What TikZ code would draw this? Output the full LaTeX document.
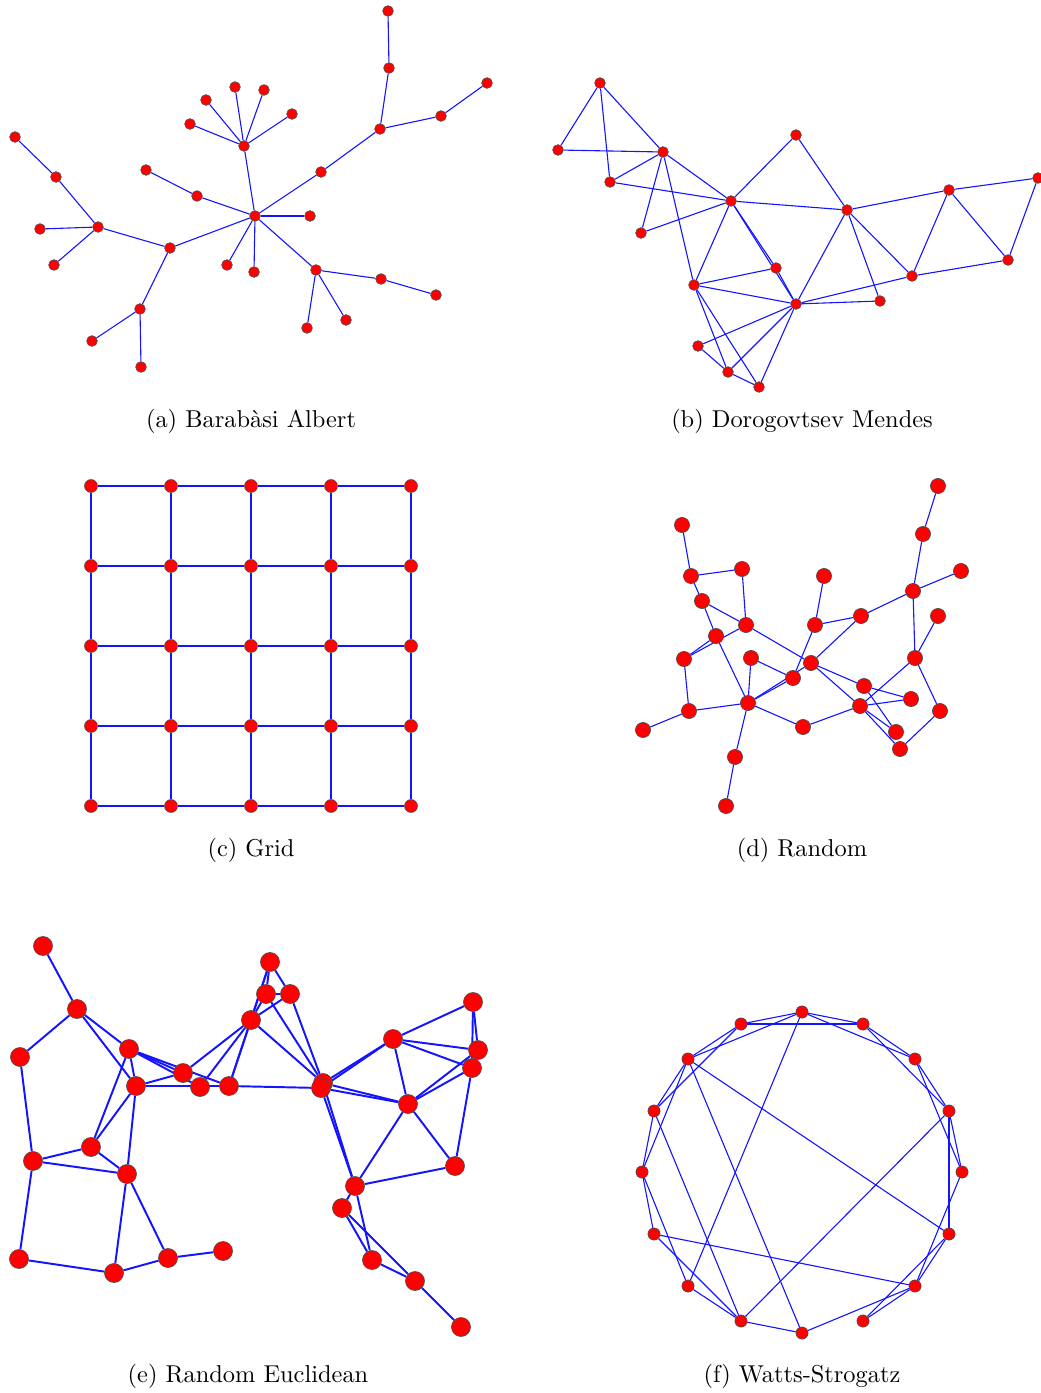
\documentclass[tikz,border=0pt]{standalone}
\usetikzlibrary{backgrounds}
\definecolor{nodered}{RGB}{255,0,0}
\definecolor{edgeblue}{RGB}{20,20,255}
\begin{document}
\begin{tikzpicture}[x=0.41pt,y=-0.41pt,
  dotbase/.style={circle,fill=nodered,draw=black!70,line width=0.25pt,inner sep=0pt},
  dotA/.style={dotbase,minimum size=4.4pt},
  dotC/.style={dotbase,minimum size=5.3pt},
  dotD/.style={dotbase,minimum size=6.2pt},
  dotE/.style={dotbase,minimum size=7.8pt},
  dotF/.style={dotbase,minimum size=5pt},
  edgethin/.style={draw=edgeblue,line width=0.45pt},
  edgethick/.style={draw=edgeblue,line width=0.8pt},
  captext/.style={font=\normalsize,inner sep=0pt}]
\useasboundingbox (0,0) rectangle (1040,1393);

% ---------- (a) Barabasi Albert ----------
\foreach \n/\x/\y in {a1/388/11,a2/389/68,a3/380/129,a4/441/116,a5/487/83,a6/321/172,
  a7/255/216,a8/310/216,a9/244/146,a10/235/87,a11/264/90,a12/206/100,a13/292/114,
  a14/190/124,a15/197/196,a16/146/170,a17/170/248,a18/98/227,a19/56/177,a20/15/137,
  a21/40/229,a22/54/265,a23/140/309,a24/92/341,a25/141/367,a26/227/265,a27/254/272,
  a28/316/270,a29/381/279,a30/436/295,a31/307/328,a32/346/320}
  \node[dotA] (\n) at (\x,\y) {};
\begin{pgfonlayer}{background}
\foreach \p/\q in {a1/a2,a2/a3,a3/a4,a4/a5,a3/a6,a6/a7,a7/a8,a7/a9,a9/a10,a9/a11,a9/a12,
  a9/a13,a9/a14,a7/a15,a15/a16,a7/a17,a17/a18,a18/a19,a19/a20,a18/a21,a18/a22,a17/a23,
  a23/a24,a23/a25,a7/a26,a7/a27,a7/a28,a28/a29,a29/a30,a28/a31,a28/a32}
  \draw[edgethin] (\p) -- (\q);
\end{pgfonlayer}
\node[captext] (capa) at (251,421) {(a) Barab\`asi Albert};

% ---------- (b) Dorogovtsev Mendes ----------
\foreach \n/\x/\y in {b1/600/83,b2/558/150,b3/663/152,b4/610/182,b5/731/201,b6/641/233,
  b7/796/135,b8/847/210,b9/949/190,b10/1038/178,b11/1008/260,b12/912/276,b13/776/268,
  b14/694/285,b15/796/304,b16/880/301,b17/698/346,b18/728/372,b19/759/387}
  \node[dotA] (\n) at (\x,\y) {};
\begin{pgfonlayer}{background}
\foreach \p/\q in {b1/b2,b1/b4,b1/b3,b2/b3,b3/b4,b3/b6,b3/b5,b3/b14,b4/b5,b6/b5,b5/b7,
  b5/b8,b7/b8,b8/b9,b9/b10,b9/b12,b9/b11,b10/b11,b12/b11,b8/b12,b8/b16,b8/b15,b5/b14,
  b5/b13,b5/b15,b13/b15,b14/b13,b14/b15,b15/b16,b15/b12,b15/b17,b15/b18,b15/b19,
  b14/b18,b14/b19,b17/b18,b18/b19}
  \draw[edgethin] (\p) -- (\q);
\end{pgfonlayer}
\node[captext] (capb) at (802,421) {(b) Dorogovtsev Mendes};

% ---------- (c) Grid ----------
\foreach \i/\x in {1/91,2/171,3/251,4/331,5/411}
  \foreach \j/\y in {1/486,2/566,3/646,4/726,5/806}
    \node[dotC] (c\i\j) at (\x,\y) {};
\begin{pgfonlayer}{background}
\foreach \i/\k in {1/2,2/3,3/4,4/5}
  \foreach \j in {1,...,5}{
    \draw[edgethin] (c\i\j) -- (c\k\j);
    \draw[edgethin] (c\j\i) -- (c\j\k);
  }
\end{pgfonlayer}
\node[captext] (capc) at (251,850) {(c) Grid};

% ---------- (d) Random ----------
\foreach \n/\x/\y in {d1/938/486,d2/923/534,d3/961/571,d4/913/591,d5/938/616,d6/915/658,
  d7/940/711,d8/900/749,d9/896/732,d10/911/699,d11/864/686,d12/860/706,d13/861/616,
  d14/824/576,d15/815/625,d16/811/663,d17/793/678,d18/803/727,d19/748/703,d20/751/658,
  d21/746/625,d22/742/569,d23/691/576,d24/682/525,d25/702/601,d26/716/636,d27/684/659,
  d28/689/711,d29/643/730,d30/735/757,d31/726/806}
  \node[dotD] (\n) at (\x,\y) {};
\begin{pgfonlayer}{background}
\foreach \p/\q in {d1/d2,d2/d4,d4/d3,d4/d6,d4/d13,d5/d6,d6/d7,d7/d8,d6/d12,d12/d8,
  d12/d9,d12/d10,d11/d10,d11/d9,d16/d11,d16/d12,d13/d16,d13/d15,d14/d15,d15/d17,
  d17/d19,d16/d19,d17/d20,d21/d16,d19/d20,d19/d18,d18/d12,d19/d26,d19/d28,d19/d30,
  d30/d31,d28/d29,d28/d27,d27/d26,d27/d21,d24/d23,d23/d22,d23/d25,d22/d21,d25/d21,d25/d26}
  \draw[edgethin] (\p) -- (\q);
\end{pgfonlayer}
\node[captext] (capd) at (802,850) {(d) Random};

% ---------- (e) Random Euclidean ----------
\foreach \n/\x/\y in {e1/43/946,e2/77/1009,e3/20/1057,e4/129/1049,e5/136/1086,e6/183/1073,
  e7/200/1087,e8/229/1086,e9/251/1020,e10/266/994,e11/290/994,e12/270/962,
  e14/393/1039,e15/473/1002,e16/478/1050,e17/472/1068,e18/408/1104,e19/455/1166,
  e20/355/1186,e21/342/1208,e22/372/1260,e23/415/1281,e24/461/1327,e25/91/1147,
  e26/33/1161,e27/127/1174,e28/19/1259,e29/114/1273,e30/168/1258,e31/223/1251,
  e13a/323/1083,e13b/321/1088}
  \node[dotE] (\n) at (\x,\y) {};
\begin{pgfonlayer}{background}
\foreach \p/\q in {e1/e2,e2/e3,e2/e4,e2/e5,e3/e26,e4/e5,e4/e25,e4/e6,e4/e7,e4/e8,
  e5/e6,e5/e8,e5/e27,e5/e25,e6/e9,e7/e9,e8/e9,e12/e8,e9/e10,e9/e12,e9/e11,e10/e12,
  e10/e11,e11/e12,e9/e13a,e10/e13a,e11/e13a,e8/e13b,e13a/e14,e13b/e14,e13a/e18,e13b/e18,
  e13a/e20,e13b/e20,e14/e15,e14/e16,e14/e17,e14/e18,e15/e16,e15/e17,e16/e18,e17/e18,
  e17/e19,e18/e19,e18/e20,e19/e20,e20/e21,e20/e22,e21/e22,e21/e23,e22/e23,e23/e24,
  e26/e25,e26/e27,e25/e27,e26/e28,e28/e29,e27/e29,e27/e30,e29/e30,e30/e31}
  \draw[edgethick] (\p) -- (\q);
\end{pgfonlayer}
\node[captext] (cape) at (248,1376) {(e) Random Euclidean};

% ---------- (f) Watts-Strogatz ----------
\foreach \n/\x/\y in {f0/802/1012,f1/863/1024,f2/915/1059,f3/949/1111,f4/962/1172,
  f5/949/1234,f6/915/1286,f7/863/1321,f8/802/1333,f9/741/1321,f10/688/1286,f11/654/1234,
  f12/642/1172,f13/654/1111,f14/688/1059,f15/741/1024}
  \node[dotF] (\n) at (\x,\y) {};
\begin{pgfonlayer}{background}
\foreach \p/\q in {f0/f15,f0/f1,f0/f14,f0/f2,f0/f10,f1/f15,f1/f2,f1/f3,f2/f3,f2/f4,
  f3/f4,f3/f5,f3/f9,f4/f6,f5/f14,f5/f7,f5/f6,f6/f7,f6/f8,f6/f11,f8/f9,f8/f14,f9/f10,
  f9/f11,f9/f13,f10/f12,f11/f12,f12/f13,f12/f14,f13/f14,f13/f15,f14/f15}
  \draw[edgethin] (\p) -- (\q);
\end{pgfonlayer}
\node[captext] (capf) at (802,1376) {(f) Watts-Strogatz};
\end{tikzpicture}
\end{document}
